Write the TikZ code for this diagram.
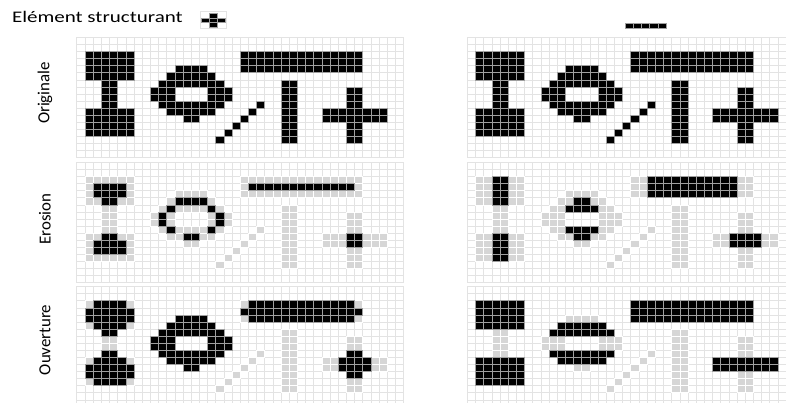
\documentclass[tikz,border=0pt]{standalone}
\usepackage{fontspec}
\setmainfont{Carlito}

% one block of cells, columns #2..#4, rows #3..#5
\newcommand\blk[5]{%
  \foreach \c in {#2,...,#4}
    \foreach \r in {#3,...,#5}
      \draw[#1] (\c,\r) rectangle ++(1,1);}

% the shapes of the original picture
\newcommand\ishape[1]{%
  \blk{#1}{1}{2}{6}{5}
  \blk{#1}{3}{6}{4}{9}
  \blk{#1}{1}{10}{6}{13}}
\newcommand\ringshape[1]{%
  \blk{#1}{12}{4}{15}{4}
  \blk{#1}{11}{5}{16}{5}
  \blk{#1}{10}{6}{17}{6}
  \blk{#1}{9}{7}{11}{8}  \blk{#1}{16}{7}{18}{8}
  \blk{#1}{10}{9}{17}{9}
  \blk{#1}{11}{10}{16}{10}
  \blk{#1}{13}{11}{14}{11}}
\newcommand\origshapes[1]{%
  \ishape{#1}
  \ringshape{#1}
  % diagonal
  \foreach \k in {0,...,5} \draw[#1] (22-\k,9+\k) rectangle ++(1,1);
  % bars
  \blk{#1}{20}{2}{34}{4}
  \blk{#1}{25}{6}{26}{14}
  % cross
  \blk{#1}{33}{7}{34}{14}
  \blk{#1}{30}{10}{37}{11}}

\newcommand\panelgrid{%
  \foreach \c in {0,...,40} \draw[cellgrid] (\c,0) -- (\c,17);
  \foreach \r in {0,...,17} \draw[cellgrid] (0,\r) -- (40,\r);}

\begin{document}
\begin{tikzpicture}[x=0.25mm, y=-0.25mm,
    cellgrid/.style={draw=gray!22, line width=0.3pt},
    pxon/.style={fill=black, draw=gray!75, line width=0.3pt},
    pxoff/.style={fill=gray!32, draw=white, line width=0.3pt},
    rowlabel/.style={font=\fontsize{12}{14}\selectfont, rotate=90},
    cellw/.style={x=2.0425mm, y=-1.77mm}
]
    \useasboundingbox (0,0) rectangle (786,403);
    \clip (0,0) rectangle (786,403);

    % title and structuring elements
    \node[anchor=base west, inner sep=0pt, font=\fontsize{11.5}{13}\selectfont, xscale=1.3]
        (setitle) at (11.7,23) {Elément structurant};
    \begin{scope}[shift={(200.5,11.7)}, x=0.25mm, y=-0.25mm]
        \draw[cellgrid] (0,0) rectangle (26,17);
        \foreach \c/\r in {1/0, 0/1, 1/1, 2/1, 1/2}
            \draw[pxon, line width=0.2pt] (1+7.8*\c,1.6+4.45*\r) rectangle ++(7.8,4.45);
    \end{scope}
    \begin{scope}[shift={(625,22.7)}, x=0.25mm, y=-0.25mm]
        \foreach \c in {0,...,4}
            \draw[pxon, line width=0.2pt] (8.2*\c,0) rectangle ++(8.2,5.7);
    \end{scope}

    % row labels
    \node[rowlabel] (lblorig) at (45,93) {Originale};
    \node[rowlabel] (lblero) at (45,219) {Erosion};
    \node[rowlabel] (lblouv) at (45,340) {Ouverture};

    % originals
    \begin{scope}[shift={(76.7,37.3)}, cellw]
        \panelgrid
        \origshapes{pxon}
    \end{scope}
    \begin{scope}[shift={(467.3,37.3)}, cellw]
        \panelgrid
        \origshapes{pxon}
    \end{scope}

    % erosion, cross
    \begin{scope}[shift={(76.7,162.3)}, cellw]
        \panelgrid
        \origshapes{pxoff}
        \blk{pxon}{2}{3}{5}{4}  \blk{pxon}{3}{5}{4}{5}
        \blk{pxon}{3}{10}{4}{10} \blk{pxon}{2}{11}{5}{12}
        \blk{pxon}{12}{5}{15}{5}
        \blk{pxon}{11}{6}{11}{6} \blk{pxon}{16}{6}{16}{6}
        \blk{pxon}{10}{7}{10}{8} \blk{pxon}{17}{7}{17}{8}
        \blk{pxon}{11}{9}{11}{9} \blk{pxon}{16}{9}{16}{9}
        \blk{pxon}{13}{10}{14}{10}
        \blk{pxon}{21}{3}{33}{3}
        \blk{pxon}{33}{10}{34}{11}
    \end{scope}
    % erosion, line
    \begin{scope}[shift={(467.3,162.3)}, cellw]
        \panelgrid
        \origshapes{pxoff}
        \blk{pxon}{3}{2}{4}{5}
        \blk{pxon}{3}{10}{4}{13}
        \blk{pxon}{13}{5}{14}{5} \blk{pxon}{12}{6}{15}{6}
        \blk{pxon}{12}{9}{15}{9} \blk{pxon}{13}{10}{14}{10}
        \blk{pxon}{22}{2}{32}{4}
        \blk{pxon}{32}{10}{35}{11}
    \end{scope}

    % opening, cross
    \begin{scope}[shift={(76.7,286.5)}, cellw]
        \panelgrid
        \origshapes{pxoff}
        \blk{pxon}{2}{2}{5}{2} \blk{pxon}{1}{3}{6}{4}
        \blk{pxon}{2}{5}{5}{5} \blk{pxon}{3}{6}{4}{6}
        \blk{pxon}{3}{9}{4}{9} \blk{pxon}{2}{10}{5}{10}
        \blk{pxon}{1}{11}{6}{12} \blk{pxon}{2}{13}{5}{13}
        \ringshape{pxon}
        \blk{pxon}{21}{2}{33}{2} \blk{pxon}{20}{3}{34}{3}
        \blk{pxon}{21}{4}{33}{4}
        \blk{pxon}{33}{9}{34}{9} \blk{pxon}{32}{10}{35}{11}
        \blk{pxon}{33}{12}{34}{12}
    \end{scope}
    % opening, line
    \begin{scope}[shift={(467.3,286.5)}, cellw]
        \panelgrid
        \origshapes{pxoff}
        \blk{pxon}{1}{2}{6}{5}
        \blk{pxon}{1}{10}{6}{13}
        \blk{pxon}{11}{5}{16}{5} \blk{pxon}{10}{6}{17}{6}
        \blk{pxon}{10}{9}{17}{9} \blk{pxon}{11}{10}{16}{10}
        \blk{pxon}{20}{2}{34}{4}
        \blk{pxon}{30}{10}{37}{11}
    \end{scope}
\end{tikzpicture}
\end{document}
